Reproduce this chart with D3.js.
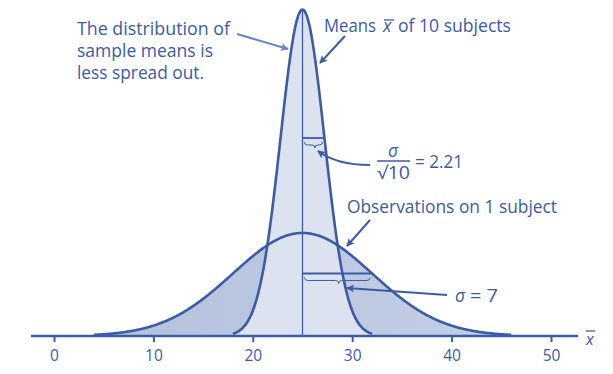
<!DOCTYPE html>
<html>
<head>
<meta charset="utf-8">
<script src="https://cdn.jsdelivr.net/npm/d3@7"></script>
<style>
  body { margin: 0; background: #fff; }
  text { font-family: "Open Sans", "Noto Sans", sans-serif; fill: #3a5ba6; }
</style>
</head>
<body>
<svg id="chart" width="613" height="374"></svg>
<script>
// values
var mu = 25;
var sigmaObs = 7;          // observations on 1 subject
var sigmaMean = 2.21;      // means of 10 subjects, sigma / sqrt(10)
var obsRange = [4, 46];    // where the wide curve is drawn
var meanRange = [18, 32];  // where the narrow curve is drawn
var xTicks = [0, 10, 20, 30, 40, 50];

var blue = '#3b5ba5';

var svg = d3.select('#chart');

var x = d3.scaleLinear().domain([0, 50]).range([54, 551]);
var y = d3.scaleLinear().domain([0, 1 / (sigmaMean * Math.sqrt(2 * Math.PI))]).range([336, 9.5]);

function pdf(v, s) {
    return Math.exp(-0.5 * Math.pow((v - mu) / s, 2)) / (s * Math.sqrt(2 * Math.PI));
}

function curvePoints(range, s) {
    return d3.range(range[0], range[1] + 0.001, 0.1).map(function (v) {
        return [v, pdf(v, s)];
    });
}

var obsPts = curvePoints(obsRange, sigmaObs);
var meanPts = curvePoints(meanRange, sigmaMean);

var defs = svg.append('defs');
var grad = defs.append('linearGradient').attr('id', 'darkfill')
    .attr('x1', '0%').attr('x2', '100%');
grad.append('stop').attr('offset', '0%').attr('stop-color', '#b3c1dc');
grad.append('stop').attr('offset', '100%').attr('stop-color', '#c4cfe5');

var marker = defs.append('marker').attr('id', 'arr')
    .attr('viewBox', '0 0 10 10').attr('refX', 9).attr('refY', 5)
    .attr('markerWidth', 8).attr('markerHeight', 8).attr('orient', 'auto')
    .attr('markerUnits', 'userSpaceOnUse');
marker.append('path').attr('d', 'M0,0 L10,5 L0,10 L2.5,5 Z').attr('fill', blue);

var marker2 = defs.append('marker').attr('id', 'arrLight')
    .attr('viewBox', '0 0 10 10').attr('refX', 9).attr('refY', 5)
    .attr('markerWidth', 8).attr('markerHeight', 8).attr('orient', 'auto')
    .attr('markerUnits', 'userSpaceOnUse');
marker2.append('path').attr('d', 'M0,0 L10,5 L0,10 L2.5,5 Z').attr('fill', '#6585c4');

var area = d3.area()
    .x(function (d) { return x(d[0]); })
    .y0(y(0))
    .y1(function (d) { return y(d[1]); })
    .curve(d3.curveBasis);

var line = d3.line()
    .x(function (d) { return x(d[0]); })
    .y(function (d) { return y(d[1]); })
    .curve(d3.curveBasis);

// fills
svg.append('path').attr('d', area(obsPts)).attr('fill', 'url(#darkfill)');
svg.append('path').attr('d', area(meanPts)).attr('fill', '#dce2f0');

// centre line at the mean
svg.append('line')
    .attr('x1', x(mu)).attr('x2', x(mu))
    .attr('y1', y(0)).attr('y2', y(pdf(mu, sigmaMean)))
    .attr('stroke', blue).attr('stroke-width', 1.3);

// one-sigma bars with braces
function sigmaBar(s, braceDrop) {
    var yy = y(pdf(mu + s, s));
    var x0 = x(mu), x1 = x(mu + s);
    svg.append('line').attr('x1', x0).attr('x2', x1).attr('y1', yy).attr('y2', yy)
        .attr('stroke', blue).attr('stroke-width', 1.8);
    var by = yy + braceDrop, xm = (x0 + x1) / 2 + 1.5, h = 3;
    svg.append('path')
        .attr('d', 'M' + (x0 + 2) + ',' + by +
            ' q0,' + h + ' ' + h + ',' + h +
            ' L' + (xm - h) + ',' + (by + h) +
            ' q' + h + ',0 ' + h + ',' + h +
            ' q0,-' + h + ' ' + h + ',-' + h +
            ' L' + (x1 - 2 - h) + ',' + (by + h) +
            ' q' + h + ',0 ' + h + ',-' + h)
        .attr('fill', 'none').attr('stroke', blue).attr('stroke-width', 1);
}
sigmaBar(sigmaMean, 4);
sigmaBar(sigmaObs, 4);

// curves
svg.append('path').attr('d', line(obsPts)).attr('fill', 'none')
    .attr('stroke', blue).attr('stroke-width', 2.6);
svg.append('path').attr('d', line(meanPts)).attr('fill', 'none')
    .attr('stroke', blue).attr('stroke-width', 2.6);

// axis
svg.append('line').attr('x1', 31).attr('x2', 578).attr('y1', y(0)).attr('y2', y(0))
    .attr('stroke', blue).attr('stroke-width', 2.4);
var axis = d3.axisBottom(x).tickValues(xTicks).tickSize(6).tickPadding(8);
var gAxis = svg.append('g').attr('transform', 'translate(0,' + y(0) + ')').call(axis);
gAxis.select('.domain').remove();
gAxis.selectAll('.tick line').attr('stroke', blue).attr('stroke-width', 2);
gAxis.selectAll('.tick text')
    .style('font-family', '"Open Sans", "Noto Sans", sans-serif')
    .style('font-size', '15.5px').attr('fill', blue);

// x-bar axis label
svg.append('text').attr('x', 586).attr('y', 345).style('font-size', '16px')
    .style('font-style', 'italic').text('x');
svg.append('line').attr('x1', 586).attr('x2', 595).attr('y1', 331).attr('y2', 331)
    .attr('stroke', blue).attr('stroke-width', 1.3);

// text helper: fixed width to match the narrower original face
function label(t, px, py, w, italic) {
    var el = svg.append('text').attr('x', px).attr('y', py)
        .style('font-size', '17.5px').text(t);
    if (w) el.attr('textLength', w).attr('lengthAdjust', 'spacingAndGlyphs');
    if (italic) el.style('font-style', 'italic');
    return el;
}

// annotations
label('The distribution of', 77, 35, 153);
label('sample means is', 77, 57, 136);
label('less spread out.', 77, 79, 127);
svg.append('line').attr('x1', 237).attr('y1', 34).attr('x2', 288).attr('y2', 49)
    .attr('stroke', '#6585c4').attr('stroke-width', 2).attr('marker-end', 'url(#arrLight)');

label('Means', 324, 32, 52);
label('x', 383, 32, null, true);
svg.append('line').attr('x1', 384).attr('x2', 394).attr('y1', 20).attr('y2', 20)
    .attr('stroke', blue).attr('stroke-width', 1.3);
label('of 10 subjects', 398, 32, 113);
svg.append('line').attr('x1', 345).attr('y1', 36).attr('x2', 320).attr('y2', 63)
    .attr('stroke', blue).attr('stroke-width', 2).attr('marker-end', 'url(#arr)');

// sigma / sqrt(10) = 2.21
label('σ', 388, 157, null, true);
svg.append('line').attr('x1', 377).attr('x2', 410).attr('y1', 161).attr('y2', 161)
    .attr('stroke', blue).attr('stroke-width', 1.3);
label('√10', 377, 179, 33);
label('= 2.21', 415, 168, 48);
svg.append('path').attr('d', 'M370,165 C345,165 330,160 318,151')
    .attr('fill', 'none').attr('stroke', blue).attr('stroke-width', 2).attr('marker-end', 'url(#arr)');

label('Observations on 1 subject', 347, 213, 210);
svg.append('line').attr('x1', 370).attr('y1', 220).attr('x2', 347).attr('y2', 246)
    .attr('stroke', blue).attr('stroke-width', 2).attr('marker-end', 'url(#arr)');

label('σ', 455, 302, null, true);
label('= 7', 470, 302, 28);
svg.append('line').attr('x1', 447).attr('y1', 295).attr('x2', 347).attr('y2', 288)
    .attr('stroke', blue).attr('stroke-width', 2).attr('marker-end', 'url(#arr)');
</script>
</body>
</html>
